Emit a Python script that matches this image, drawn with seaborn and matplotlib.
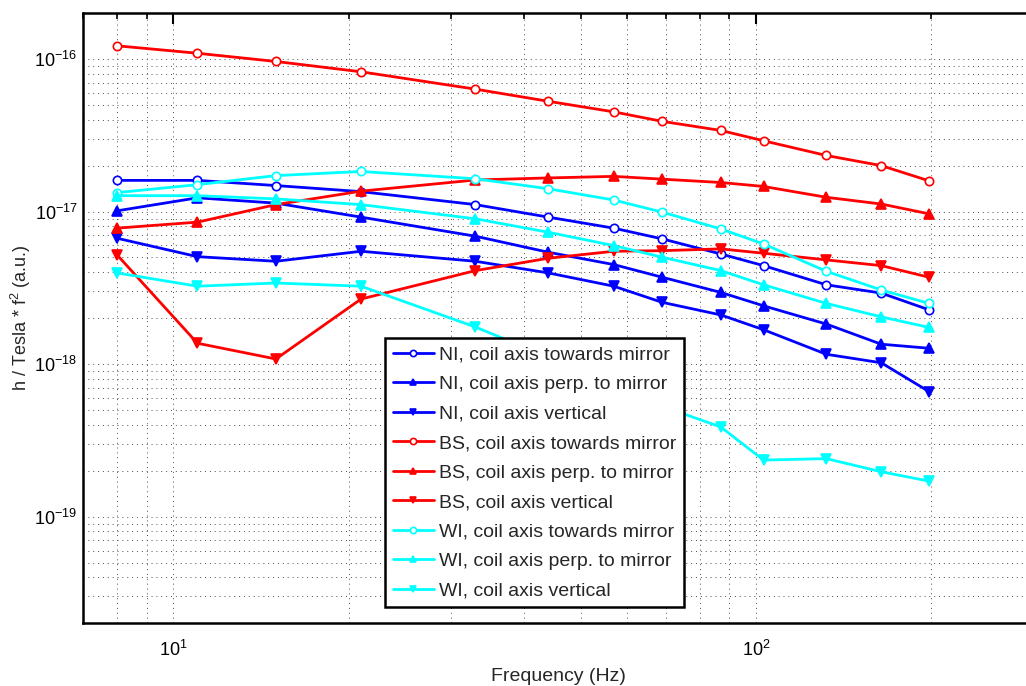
import numpy as np
import pandas as pd
import matplotlib
matplotlib.use("Agg")
import matplotlib.pyplot as plt
import seaborn as sns
from matplotlib.ticker import LogLocator, NullFormatter, FixedLocator

# Frecuencias (Hz)
freq = [8, 11, 15, 21, 33, 44, 57, 69, 87, 103, 132, 164, 198]

# NI
ni_towards = [1.60e-17, 1.60e-17, 1.48e-17, 1.35e-17, 1.11e-17, 9.19e-18, 7.78e-18,
              6.62e-18, 5.27e-18, 4.42e-18, 3.31e-18, 2.92e-18, 2.27e-18]
ni_perp = [1.01e-17, 1.23e-17, 1.135e-17, 9.19e-18, 6.89e-18, 5.41e-18, 4.49e-18,
           3.71e-18, 2.95e-18, 2.41e-18, 1.83e-18, 1.35e-18, 1.27e-18]
ni_vertical = [6.69e-18, 5.06e-18, 4.72e-18, 5.49e-18, 4.72e-18, 3.96e-18, 3.24e-18,
               2.54e-18, 2.10e-18, 1.68e-18, 1.16e-18, 1.02e-18, 6.61e-19]

# BS
bs_towards = [1.22e-16, 1.09e-16, 9.63e-17, 8.24e-17, 6.34e-17, 5.28e-17, 4.50e-17,
              3.90e-17, 3.40e-17, 2.91e-17, 2.33e-17, 2.00e-17, 1.59e-17]
bs_perp = [7.78e-18, 8.52e-18, 1.11e-17, 1.36e-17, 1.61e-17, 1.66e-17, 1.70e-17,
           1.63e-17, 1.55e-17, 1.46e-17, 1.24e-17, 1.12e-17, 9.66e-18]
bs_vertical = [5.22e-18, 1.37e-18, 1.08e-18, 2.67e-18, 4.10e-18, 4.94e-18, 5.49e-18,
               5.54e-18, 5.69e-18, 5.33e-18, 4.82e-18, 4.42e-18, 3.71e-18]

# WI
wi_towards = [1.33e-17, 1.50e-17, 1.72e-17, 1.83e-17, 1.64e-17, 1.41e-17, 1.19e-17,
              9.91e-18, 7.69e-18, 6.13e-18, 4.06e-18, 3.06e-18, 2.50e-18]
wi_perp = [1.27e-17, 1.27e-17, 1.21e-17, 1.11e-17, 8.96e-18, 7.32e-18, 5.98e-18,
           5.02e-18, 4.10e-18, 3.31e-18, 2.50e-18, 2.04e-18, 1.74e-18]
wi_vertical = [3.96e-18, 3.24e-18, 3.40e-18, 3.24e-18, 1.75e-18, 1.11e-18, 7.16e-19,
               5.29e-19, 3.87e-19, 2.35e-19, 2.40e-19, 1.97e-19, 1.71e-19]

# Marcas principales de los ejes
xticks_major = [10, 100]
yticks_major = [1e-19, 1e-18, 1e-17, 1e-16]

series = [
    ("NI, coil axis towards mirror", ni_towards, "#0000ff", "o"),
    ("NI, coil axis perp. to mirror", ni_perp, "#0000ff", "^"),
    ("NI, coil axis vertical", ni_vertical, "#0000ff", "v"),
    ("BS, coil axis towards mirror", bs_towards, "#ff0000", "o"),
    ("BS, coil axis perp. to mirror", bs_perp, "#ff0000", "^"),
    ("BS, coil axis vertical", bs_vertical, "#ff0000", "v"),
    ("WI, coil axis towards mirror", wi_towards, "#00ffff", "o"),
    ("WI, coil axis perp. to mirror", wi_perp, "#00ffff", "^"),
    ("WI, coil axis vertical", wi_vertical, "#00ffff", "v"),
]

sns.set_theme(style="white")
plt.rcParams['font.family'] = ['Liberation Sans', 'DejaVu Sans']
plt.rcParams['mathtext.fontset'] = 'custom'
plt.rcParams['mathtext.rm'] = 'Liberation Sans'

fig = plt.figure(figsize=(10.26, 6.86), dpi=100)
ax = fig.add_axes([0.0809, 0.0914, 0.927, 0.8896])

for nombre, valores, color, marcador in series:
    df = pd.DataFrame({"f": freq, "v": valores})
    sns.lineplot(data=df, x="f", y="v", ax=ax, color=color, marker=marcador,
                 markersize=6 if marcador == "o" else 6.5,
                 markerfacecolor="white" if marcador == "o" else color,
                 markeredgecolor=color, markeredgewidth=1.2,
                 linewidth=2.0, label=nombre)

ax.set_xscale("log")
ax.set_yscale("log")
ax.set_xlim(7, 300)
ax.set_ylim(2e-20, 2e-16)

ax.xaxis.set_major_locator(FixedLocator(xticks_major))
ax.xaxis.set_minor_locator(LogLocator(base=10, subs=np.arange(2, 10)))
ax.xaxis.set_minor_formatter(NullFormatter())
ax.yaxis.set_major_locator(FixedLocator(yticks_major))
ax.yaxis.set_minor_locator(LogLocator(base=10, subs=np.arange(2, 10)))
ax.yaxis.set_minor_formatter(NullFormatter())

ax.grid(True, which="both", color="0.3", linestyle=(0, (1, 4)), linewidth=0.7)
ax.tick_params(which="both", direction="in", top=True, right=False, colors="black",
               labelsize=13)
ax.tick_params(which="major", length=8, width=1.5)
ax.tick_params(which="minor", length=4, width=1.2)
ax.tick_params(axis="x", which="major", pad=12)
ax.tick_params(axis="y", which="major", pad=4)
for lado in ["left", "bottom", "top", "right"]:
    ax.spines[lado].set_color("black")
    ax.spines[lado].set_linewidth(1.8)

ax.set_xlabel("Frequency (Hz)", fontsize=14)
ax.set_ylabel("h / Tesla * f$^2$ (a.u.)", fontsize=13)
ax.xaxis.set_label_coords(0.5, -0.073)
ax.yaxis.set_label_coords(-0.053, 0.5)

leg = ax.legend(loc="upper left", bbox_to_anchor=(0.3176, 0.467), borderaxespad=0,
                fontsize=14, frameon=True, fancybox=False, framealpha=1,
                edgecolor="black", labelspacing=0.61, handlelength=2.1,
                handletextpad=0.25, borderpad=0.4, markerscale=0.75)
leg.get_frame().set_linewidth(1.8)

plt.savefig("out.png", dpi=100)
plt.close()
